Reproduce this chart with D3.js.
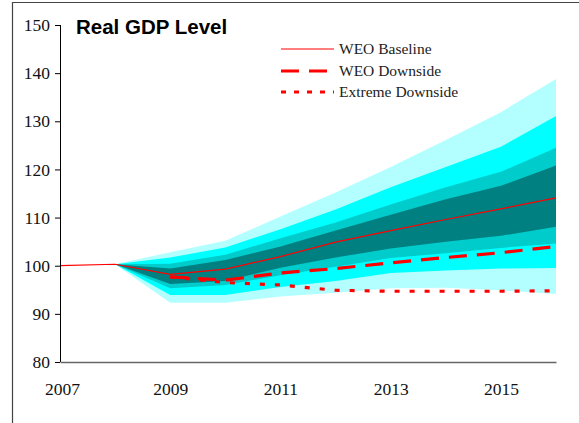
<!DOCTYPE html>
<html>
<head>
<meta charset="utf-8">
<script src="https://cdn.jsdelivr.net/npm/d3@7"></script>
<style>
body { margin: 0; background: #fff; }
text.serif-text { font-family: "Liberation Serif", "Times New Roman", Times, serif !important; }
.legend-text { font-size: 15.5px; fill: #222; }
.title { font-family: "Liberation Sans", Arial, sans-serif; font-weight: bold; font-size: 20.5px; fill: #000; }
</style>
</head>
<body>
<svg class="chart" width="579" height="423"></svg>
<script>
// fan years start at 2008, all bands meet there
var fanYears = [2008, 2009, 2010, 2011, 2012, 2013, 2014, 2015, 2016]
var lightTop = [100.3, 102.8, 105.2, 110.2, 115.2, 120.5, 126.1, 131.9, 138.8]
var cyanTop  = [100.3, 101.7, 103.8, 107.6, 111.7, 116.3, 120.5, 124.7, 131.1]
var medTop   = [100.3, 100.4, 102.3, 105.7, 109.0, 112.7, 116.3, 119.5, 124.5]
var tealTop  = [100.3, 99.4, 101.2, 104.0, 107.3, 110.6, 113.8, 116.6, 120.8]
var tealBot  = [100.3, 96.2, 96.8, 99.6, 101.7, 103.6, 105.0, 106.2, 108.1]
var medBot   = [100.3, 95.3, 96.0, 98.0, 99.8, 101.6, 102.6, 103.7, 104.6]
var cyanBot  = [100.3, 93.9, 93.9, 95.6, 96.8, 98.5, 99.0, 99.4, 99.5]
var lightBot = [100.3, 92.3, 92.3, 93.6, 94.4, 95.3, 95.4, 94.9, 94.1]

var baseYears = [2007, 2008, 2009, 2010, 2011, 2012, 2013, 2014, 2015, 2016]
var baseline  = [100, 100.3, 98.2, 99.3, 101.9, 104.9, 107.3, 109.6, 111.8, 114.1]

var downYears = [2009, 2010, 2011, 2012, 2013, 2014, 2015, 2016]
var downside  = [97.7, 97.0, 98.5, 99.4, 100.6, 101.7, 102.7, 104.0]
var extreme   = [97.7, 96.5, 96.0, 94.9, 94.7, 94.7, 94.7, 94.8]

var yTicks = [80, 90, 100, 110, 120, 130, 140, 150]
var xTicks = [2007, 2009, 2011, 2013, 2015]

var legendNames = ["WEO Baseline", "WEO Downside", "Extreme Downside"]

var svg = d3.select(".chart")

var x_scaler = d3.scaleLinear().domain([2007, 2016]).range([60, 556])
var y_scaler = d3.scaleLinear().domain([80, 150]).range([362, 25])

// outer frame (runs off the picture on right and bottom)
svg.append("path")
  .attr("d", "M12.5,430 L12.5,2.5 L590,2.5")
  .attr("fill", "none")
  .attr("stroke", "#444")
  .attr("stroke-width", 1.2)

// fan bands, drawn outer first
var bands = [
  {top: lightTop, bot: lightBot, col: "#b3ffff"},
  {top: cyanTop,  bot: cyanBot,  col: "#00ffff"},
  {top: medTop,   bot: medBot,   col: "#00cccc"},
  {top: tealTop,  bot: tealBot,  col: "#008080"}
]

bands.forEach(function(b) {
    var area = d3.area()
      .x(function(d, i) {return x_scaler(fanYears[i])})
      .y0(function(d, i) {return y_scaler(b.bot[i])})
      .y1(function(d) {return y_scaler(d)})
    svg.append("path")
      .datum(b.top)
      .attr("d", area)
      .attr("fill", b.col)
})

function lineFor(years) {
    return d3.line()
      .x(function(d, i) {return x_scaler(years[i])})
      .y(function(d) {return y_scaler(d)})
}

svg.append("path")
  .datum(extreme)
  .attr("d", lineFor(downYears))
  .attr("fill", "none")
  .attr("stroke", "#ff0000")
  .attr("stroke-width", 3.2)
  .attr("stroke-dasharray", "5,10")

svg.append("path")
  .datum(downside)
  .attr("d", lineFor(downYears))
  .attr("fill", "none")
  .attr("stroke", "#ff0000")
  .attr("stroke-width", 3.2)
  .attr("stroke-dasharray", "18,10")

svg.append("path")
  .datum(baseline)
  .attr("d", lineFor(baseYears))
  .attr("fill", "none")
  .attr("stroke", "#ff0000")
  .attr("stroke-width", 1.2)

// y axis
var yAxis = d3.axisLeft(y_scaler).tickValues(yTicks).tickSize(5).tickPadding(5)
var gy = svg.append("g").attr("transform", "translate(60,0)").call(yAxis)
gy.select(".domain").attr("stroke", "#000").attr("d", "M0.5," + y_scaler(150) + "V" + y_scaler(80))
gy.selectAll(".tick line").attr("stroke", "#000")
gy.selectAll("text").classed("serif-text", true).attr("fill", "#111").style("font-size", "17.5px")

// x axis
var xAxis = d3.axisBottom(x_scaler).tickValues(xTicks).tickFormat(d3.format("d")).tickSize(0).tickPadding(21)
var gx = svg.append("g").attr("transform", "translate(0,362)").call(xAxis)
gx.select(".domain").attr("stroke", "#666").attr("stroke-width", 1.6)
gx.selectAll("text").classed("serif-text", true).attr("fill", "#111").style("font-size", "17.5px")
  .attr("dx", function(d, i) {return i == 0 ? 2 : 0})

// title
svg.append("text").attr("class", "title").attr("x", 76).attr("y", 34).text("Real GDP Level")

// legend
var legendStyles = [
  {w: 1.2, dash: null},
  {w: 3.2, dash: "18,10"},
  {w: 3.2, dash: "5,8"}
]
var legendY = [49, 71, 92]
var lg = svg.selectAll(".leg").data(legendNames).enter().append("g").attr("class", "leg")
lg.append("line")
  .attr("x1", 281).attr("x2", 334)
  .attr("y1", function(d, i) {return legendY[i]})
  .attr("y2", function(d, i) {return legendY[i]})
  .attr("stroke", "#ff0000")
  .attr("stroke-width", function(d, i) {return legendStyles[i].w})
  .attr("stroke-dasharray", function(d, i) {return legendStyles[i].dash})
lg.append("text")
  .attr("class", "legend-text serif-text")
  .attr("x", 339)
  .attr("y", function(d, i) {return legendY[i] + 5})
  .text(function(d) {return d})
</script>
</body>
</html>
